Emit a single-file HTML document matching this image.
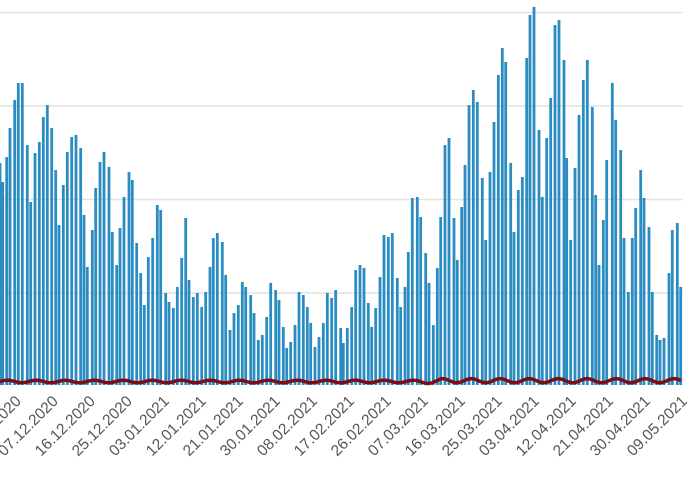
<!DOCTYPE html>
<html><head><meta charset="utf-8"><style>
html,body{margin:0;padding:0;background:#fff;width:690px;height:480px;overflow:hidden}
svg{display:block}
text{font-family:"Liberation Sans",sans-serif;font-size:15.5px;fill:#555}
</style></head><body>
<svg id="s" width="690" height="480" xmlns="http://www.w3.org/2000/svg">
<g stroke="#e2e2e2" stroke-width="1.5">
<line x1="0" x2="683" y1="12.5" y2="12.5"/>
<line x1="0" x2="683" y1="106" y2="106"/>
<line x1="0" x2="683" y1="199.5" y2="199.5"/>
<line x1="0" x2="683" y1="293" y2="293"/>
</g>
<g id="bars" fill="#2a8cc0"></g>
<path id="red" fill="none" stroke="#7d0d14" stroke-width="3.5"/>
<g id="labels"></g>
</svg>
<script>
var z1=[[0,163],[8,182],[20,157],[30,128],[44,100],[55,83],[67,83],[82,145],[92,202],[105,153],[118,142],[130,117],[142,105],[155,128],[167,170],[177,225],[190,185],[202,152],[215,137],[228,135],[242,148],[252,215],[262,267],[277,230],[287,188],[300,162],[312,152],[327,167],[337,232],[350,265],[360,228],[372,197],[387,172],[397,180],[410,243],[422,273],[433,305],[445,257],[458,238],[472,205],[482,210],[497,293],[507,302],[520,308],[532,287],[545,258],[557,218],[567,280],[580,297],[592,293],[605,307],[617,292],[630,267],[640,238],[652,233],[667,242],[677,275]];
var z2=[[0,330],[12,313],[25,305],[37,282],[47,287],[62,295],[72,313],[85,340],[97,335],[110,317],[122,283],[137,290],[147,300],[160,327],[170,348],[182,342],[195,325],[207,292],[220,295],[232,307],[242,323],[255,347],[267,337],[280,323],[292,293],[305,298],[317,290],[332,328],[340,343],[352,328],[365,307],[377,270],[390,265],[402,268],[415,303],[425,327],[437,308],[450,277],[462,235],[475,237],[487,233],[502,278],[512,307],[525,287],[535,252],[547,198],[562,197],[572,217],[587,253],[597,283],[610,325],[622,268],[632,217],[645,145],[657,138],[672,218],[682,260]];
var z3=[[5,207],[15,165],[27,105],[40,90],[52,102],[67,178],[77,240],[90,172],[102,122],[115,75],[127,48],[137,62],[152,163],[162,232],[175,190],[187,177],[200,58],[210,15],[222,7],[237,130],[247,197],[260,138],[272,98],[285,25],[297,20],[312,60],[320,158],[332,240],[345,168],[357,115],[370,80],[382,60],[397,107],[407,195],[417,265],[430,220],[440,160],[457,83],[467,120],[482,150],[492,238],[505,292],[517,238],[527,208],[542,170],[552,198],[567,227],[577,292],[590,335],[600,340],[612,338],[627,273],[637,230],[652,223],[662,287]];
var all=[];
z1.forEach(function(p){all.push([p[0]/3,p[1]])});
z2.forEach(function(p){all.push([230+p[0]/3,p[1]])});
z3.forEach(function(p){all.push([460+p[0]/3,p[1]])});
var h='';
all.forEach(function(p){h+='<rect x="'+(p[0]-1.4).toFixed(1)+'" y="'+p[1]+'" width="2.8" height="'+(385-p[1])+'"/>';});
document.getElementById('bars').innerHTML=h;
var d='M0 381';
for(var x=0;x<=682;x+=3){var y=381.5-1.3*Math.sin(x/29*Math.PI*2)*(x>420?1.6:1)-(x>440?0.8:0);d+=' L'+x+' '+y.toFixed(1);}
document.getElementById('red').setAttribute('d',d);
var labs=['28.11.2020','07.12.2020','16.12.2020','25.12.2020','03.01.2021','12.01.2021','21.01.2021','30.01.2021','08.02.2021','17.02.2021','26.02.2021','07.03.2021','16.03.2021','25.03.2021','03.04.2021','12.04.2021','21.04.2021','30.04.2021','09.05.2021'];
var t='';
labs.forEach(function(l,i){var x=682-37*(18-i);t+='<text text-anchor="end" transform="translate('+(x+6)+',402) rotate(-45)">'+l+'</text>';});
document.getElementById('labels').innerHTML=t;
</script>
</body></html>
